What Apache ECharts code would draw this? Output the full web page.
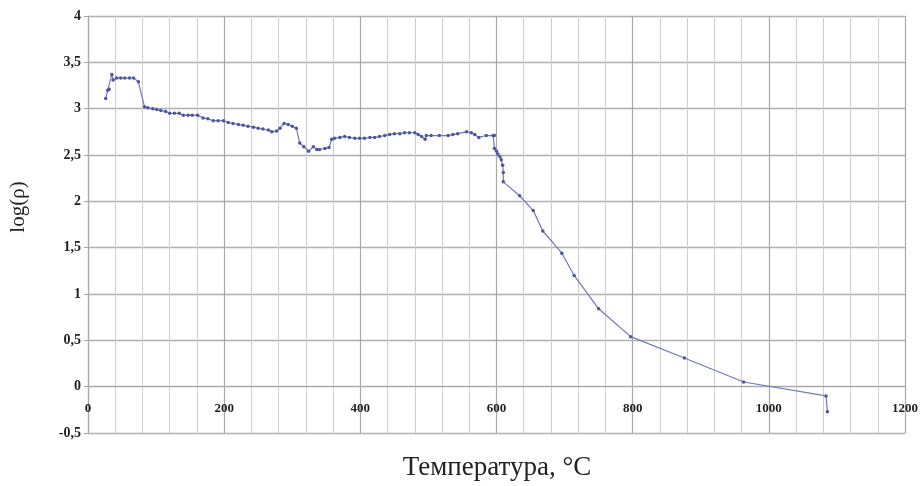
<!DOCTYPE html>
<html>
<head>
<meta charset="utf-8">
<script src="https://cdn.jsdelivr.net/npm/echarts@6/dist/echarts.min.js"></script>
<style>html,body{margin:0;padding:0;background:#fff}#c{width:921px;height:486px}</style>
</head>
<body>
<div id="c"></div>
<script>
// Temperature, °C
var temps = [26,29,31,35,37,42,48,54,61,67,74,83,88,95,101,107,114,120,127,134,140,147,153,161,169,176,184,191,199,206,213,221,228,235,243,250,257,265,270,277,282,288,294,300,306,311,317,324,331,336,340,348,354,358,362,370,377,384,392,399,406,414,421,428,436,443,450,458,465,472,480,485,490,495,497,504,516,529,536,543,556,563,568,574,585,595,597,597,600,602,605,607,609,610,610,634,654,668,696,714,750,797,876,963,1084,1086];
// log(rho)
var logRho = [3.11,3.20,3.21,3.37,3.31,3.33,3.33,3.33,3.33,3.33,3.29,3.02,3.01,3.00,2.99,2.98,2.97,2.95,2.95,2.95,2.93,2.93,2.93,2.93,2.90,2.89,2.87,2.87,2.87,2.85,2.84,2.83,2.82,2.81,2.80,2.79,2.78,2.77,2.75,2.76,2.79,2.84,2.83,2.81,2.79,2.63,2.59,2.54,2.59,2.56,2.56,2.57,2.58,2.67,2.68,2.69,2.70,2.69,2.68,2.68,2.68,2.69,2.69,2.70,2.71,2.72,2.73,2.73,2.74,2.74,2.74,2.72,2.70,2.67,2.71,2.71,2.71,2.71,2.72,2.73,2.75,2.74,2.72,2.69,2.71,2.71,2.71,2.57,2.54,2.51,2.48,2.45,2.39,2.31,2.21,2.06,1.90,1.68,1.44,1.20,0.84,0.54,0.31,0.05,-0.10,-0.27];
var xTicks = [0,200,400,600,800,1000,1200];
var yTicks = [-0.5,0,0.5,1,1.5,2,2.5,3,3.5,4];

var data = temps.map(function(t,i){return [t, logRho[i]];});
var serif = '"Liberation Serif","Times New Roman",serif';
var gridTop = 16, gridBottom = 53, H = 486;
var plotH = H - gridTop - gridBottom;
var yMin = yTicks[0], yMax = yTicks[yTicks.length-1];
// shift the x axis (line + labels) up to the zero level
var zeroOffset = -plotH * (0 - yMin) / (yMax - yMin);
var chart = echarts.init(document.getElementById('c'), null, {renderer:'canvas'});
chart.setOption({
  animation:false,
  backgroundColor:'#fff',
  grid:{left:88, right:16, top:gridTop, bottom:gridBottom, containLabel:false},
  xAxis:{
    type:'value', min:xTicks[0], max:xTicks[xTicks.length-1], interval:200,
    offset: zeroOffset,
    axisLine:{show:true, onZero:false, lineStyle:{color:'#a8a8a8', width:1.2}},
    axisTick:{show:false},
    axisLabel:{fontFamily:serif, fontWeight:'bold', fontSize:13, color:'#222', margin:15,
      formatter:function(v){return String(v);}},
    splitLine:{show:true, lineStyle:{color:'#a8a8a8', width:1.2}},
    minorTick:{show:false, splitNumber:5},
    minorSplitLine:{show:true, lineStyle:{color:'#cfcfcf', width:1}}
  },
  yAxis:{
    type:'value', min:yMin, max:yMax, interval:0.5,
    axisLine:{show:true, lineStyle:{color:'#a8a8a8', width:1.2}},
    axisTick:{show:true, inside:false, length:4, lineStyle:{color:'#a8a8a8'}},
    axisLabel:{fontFamily:serif, fontWeight:'bold', fontSize:14, color:'#222', margin:7,
      formatter:function(v){return String(v).replace('.', ',');}},
    splitLine:{show:true, lineStyle:{color:'#b0b0b0', width:1.4}}
  },
  graphic:[
    {type:'text', x:18, y:207, rotation:Math.PI/2,
      style:{text:'log(ρ)', font:'21px '+serif, fill:'#222', align:'center', verticalAlign:'middle'}},
    {type:'text', x:497, y:468,
      style:{text:'Температура, °C', font:'27px '+serif, fill:'#222', align:'center', verticalAlign:'middle'}}
  ],
  series:[{
    type:'line', data:data, showSymbol:true, symbol:'circle', symbolSize:3.5,
    lineStyle:{color:'#7078bc', width:1.2},
    itemStyle:{color:'#4d569f'},
    z:5
  }]
});
</script>
</body>
</html>
